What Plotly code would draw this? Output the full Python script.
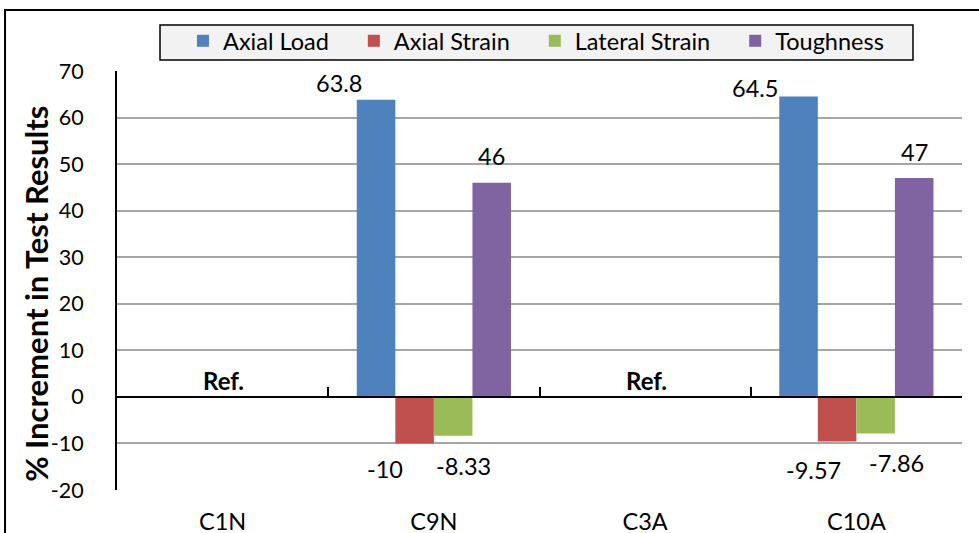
import plotly.graph_objects as go

# Specimens and percentage increments relative to the reference specimens
specimens = ["C1N", "C9N", "C3A", "C10A"]
axial_load = [None, 63.8, None, 64.5]
axial_strain = [None, -10, None, -9.57]
lateral_strain = [None, -8.33, None, -7.86]
toughness = [None, 46, None, 47]
reference_specimens = ["C1N", "C3A"]
y_ticks = [-20, -10, 0, 10, 20, 30, 40, 50, 60, 70]
y_tick_text = ["-20", "-10", "0", "10", "20", "30", "40", "50", "60", "70"]
y_title = "% Increment in Test Results"

series = [
    ("Axial Load", axial_load, "#4F81BD"),
    ("Axial Strain", axial_strain, "#C0504D"),
    ("Lateral Strain", lateral_strain, "#9BBB59"),
    ("Toughness", toughness, "#8064A2"),
]

FONT = "Lato, Liberation Sans, sans-serif"
BARGAP = 0.27
xpos = list(range(len(specimens)))

fig = go.Figure()
for name, vals, color in series:
    fig.add_trace(go.Bar(
        x=xpos, y=vals, name=name, marker=dict(color=color, line=dict(width=0)),
    ))

# Value labels, nudged (px) off their bars
label_shift = {
    "Axial Load": [(-37, 17), (-44, 9)],
    "Axial Strain": [(-30, -26), (-24, -29)],
    "Lateral Strain": [(10, -30), (21, -30)],
    "Toughness": [(0, 27), (0, 26)],
}
bar_w = (1 - BARGAP) / len(series)
for k, (name, vals, color) in enumerate(series):
    offset = (k - (len(series) - 1) / 2) * bar_w
    shifts = iter(label_shift[name])
    for i, v in enumerate(vals):
        if v is None:
            continue
        dx, dy = next(shifts)
        fig.add_annotation(
            x=i + offset, y=v, text=f"{v:g}", showarrow=False,
            xshift=dx, yshift=dy, yanchor="middle",
            font=dict(family=FONT, size=23.5, color="black"),
        )

for s in reference_specimens:
    fig.add_annotation(
        x=specimens.index(s), y=0, text="<b>Ref.</b>", showarrow=False,
        yanchor="bottom", yshift=0, xshift=1,
        font=dict(family=FONT, size=24, color="black"),
    )

# Value-axis title
fig.add_annotation(
    xref="paper", yref="paper", x=-0.0959, y=0.468, textangle=-90,
    text=f"<b>{y_title}</b>", showarrow=False, xanchor="center", yanchor="middle",
    font=dict(family=FONT, size=31, color="black"),
)

# Outer chart frame
fig.add_shape(type="rect", xref="paper", yref="paper",
              x0=-0.1325, x1=1.2, y0=-0.3, y1=1.1456,
              line=dict(color="black", width=2), fillcolor="rgba(0,0,0,0)", layer="below")
# Legend panel
fig.add_shape(type="rect", xref="paper", yref="paper",
              x0=0.0509, x1=0.942, y0=1.02625, y1=1.1098,
              line=dict(color="black", width=1.5), fillcolor="#F2F2F2", layer="below")

fig.update_layout(
    width=979, height=533,
    margin=dict(l=117, r=17, t=71, b=43, autoexpand=False),
    paper_bgcolor="white", plot_bgcolor="white",
    barmode="group", bargap=BARGAP, bargroupgap=0,
    font=dict(family=FONT, size=20, color="black"),
    showlegend=True,
    legend=dict(
        orientation="h", x=0.0544, xanchor="left", y=1.1241, yanchor="top",
        bgcolor="rgba(0,0,0,0)", borderwidth=0,
        font=dict(family=FONT, size=23.5, color="black"),
        itemwidth=30, traceorder="normal", indentation=20,
    ),
    xaxis=dict(
        range=[-0.5, len(specimens) - 0.5], automargin=False,
        tickvals=xpos, ticktext=specimens,
        showgrid=False, zeroline=False, showline=False, ticks="",
        tickfont=dict(family=FONT, size=23.5), ticklabelstandoff=15,
    ),
    # Category axis drawn along zero with boundary ticks
    xaxis2=dict(
        overlaying="x", anchor="free", position=20 / 90, side="bottom",
        range=[-0.5, len(specimens) - 0.5], matches="x", automargin=False,
        tickvals=[i + 0.5 for i in xpos], showticklabels=False,
        ticks="inside", ticklen=9, tickwidth=1.5, tickcolor="black",
        showline=True, linecolor="black", linewidth=2, showgrid=False, zeroline=False,
    ),
    yaxis=dict(
        range=[-20, 70], tickvals=y_ticks, ticktext=y_tick_text, automargin=False,
        showgrid=True, gridcolor="#A6A6A6", gridwidth=1.5,
        zeroline=False, showline=True, linecolor="black", linewidth=2,
        ticks="", tickfont=dict(family=FONT, size=21.5), ticklabelstandoff=27,
    ),
)

# empty trace so the zero-line axis is drawn
fig.add_trace(go.Scatter(x=[None], y=[None], xaxis="x2", showlegend=False, hoverinfo="skip"))

fig.write_html("out.html")
